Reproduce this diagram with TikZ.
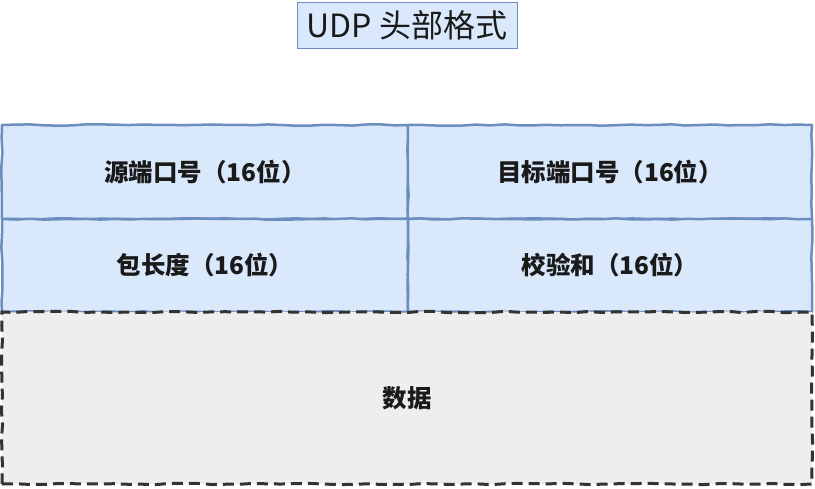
\documentclass[tikz,border=0pt]{standalone}
\usepackage{fontspec}
\setmainfont{Noto Sans CJK SC}
\usetikzlibrary{decorations.pathmorphing}
\definecolor{cellfill}{HTML}{DAE8FC}
\definecolor{cellline}{HTML}{6C8EBF}
\definecolor{datafill}{HTML}{EEEEEE}
\definecolor{dataline}{HTML}{333333}
\definecolor{txt}{HTML}{1A1A1A}
\newcommand{\lowered}[1]{\raisebox{-2.5pt}{#1}}
\tikzset{
  sketch/.style={decorate, decoration={random steps, segment length=14pt, amplitude=0.7pt}},
  cell/.style={draw=cellline, fill=cellfill, line width=2.5pt, sketch, inner sep=0pt,
    line join=round, text=txt, font=\bfseries\fontsize{24.5}{28}\selectfont},
  databox/.style={draw=dataline, fill=datafill, line width=3pt, sketch, inner sep=0pt,
    dash pattern=on 11pt off 6pt, text=txt, font=\bfseries\fontsize{24.5}{28}\selectfont},
  titlebox/.style={draw=cellline, fill=cellfill, line width=1pt, inner sep=0pt,
    text=txt, font=\fontsize{32}{36}\selectfont}
}
\begin{document}
\begin{tikzpicture}[x=1pt,y=1pt]
\pgfmathsetseed{7}
\useasboundingbox (0,0) rectangle (815,-488);
\node[titlebox, minimum width=220pt, minimum height=46pt] (title) at (407,-25) {\raisebox{-1pt}{UDP 头部格式}};
\node[cell, minimum width=406pt, minimum height=94pt] (src) at (205,-172) {\lowered{源端口号（16位）}};
\node[cell, minimum width=404pt, minimum height=94pt] (dst) at (610,-172) {\lowered{目标端口号（16位）}};
\node[cell, minimum width=406pt, minimum height=93pt] (len) at (205,-265.5) {\lowered{包长度（16位）}};
\node[cell, minimum width=404pt, minimum height=93pt] (sum) at (610,-265.5) {\lowered{校验和（16位）}};
\node[databox, minimum width=810pt, minimum height=172pt] (data) at (407,-398) {\lowered{数据}};
\end{tikzpicture}
\end{document}
